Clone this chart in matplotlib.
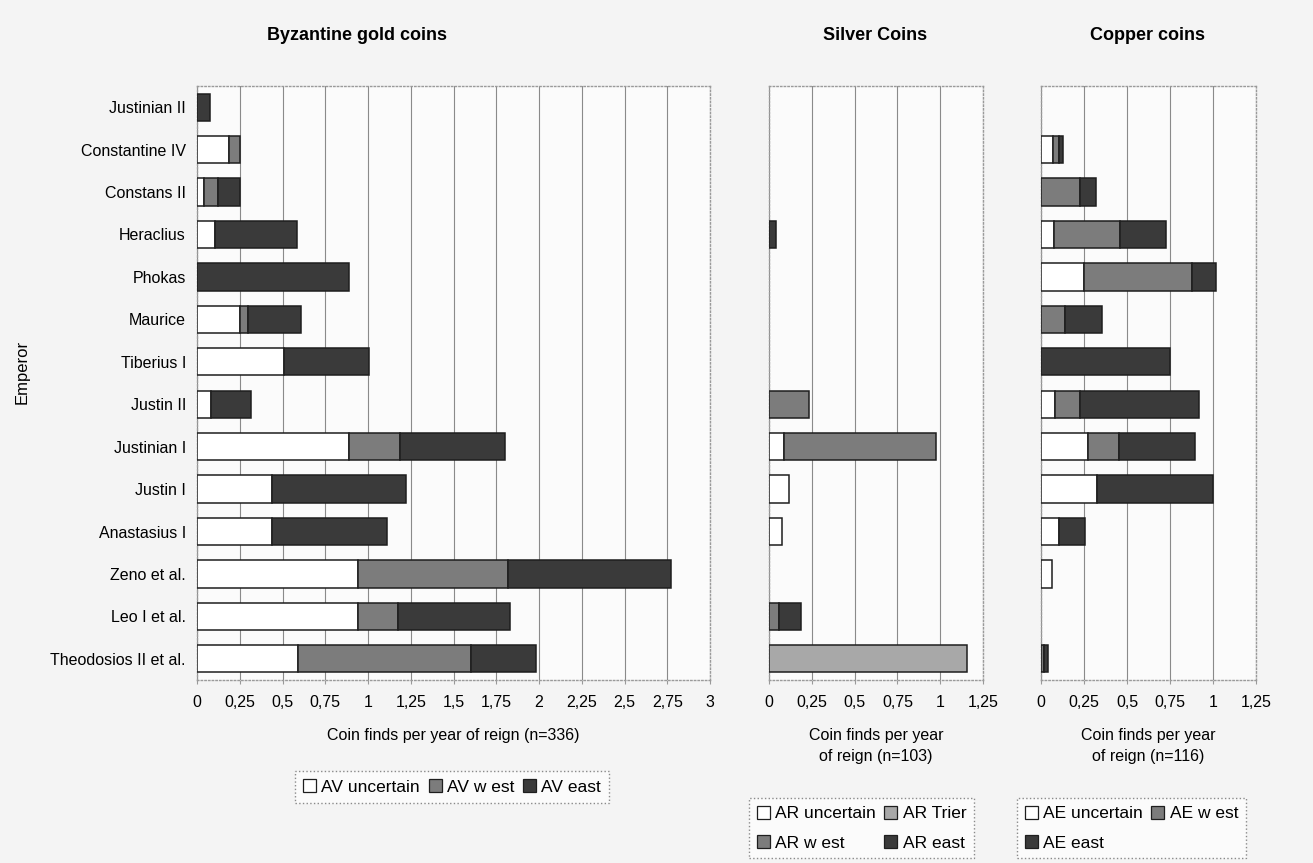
import numpy as np
import matplotlib
matplotlib.use("Agg")
import matplotlib.pyplot as plt
from matplotlib.patches import Patch

plt.rcParams['font.family'] = ['Liberation Sans', 'DejaVu Sans']

# Data (top to bottom as in the chart)
emperors = ["Justinian II", "Constantine IV", "Constans II", "Heraclius", "Phokas",
            "Maurice", "Tiberius I", "Justin II", "Justinian I", "Justin I",
            "Anastasius I", "Zeno et al.", "Leo I et al.", "Theodosios II et al."]

av_uncertain = [0, 0.19, 0.04, 0.105, 0, 0.254, 0.508, 0.081, 0.889, 0.44, 0.44, 0.942, 0.942, 0.59]
av_west = [0, 0.06, 0.08, 0, 0, 0.046, 0, 0, 0.30, 0, 0, 0.875, 0.235, 1.013]
av_east = [0.075, 0, 0.13, 0.482, 0.889, 0.31, 0.50, 0.236, 0.61, 0.782, 0.673, 0.953, 0.656, 0.377]

ar_uncertain = [0, 0, 0, 0, 0, 0, 0, 0, 0.088, 0.115, 0.078, 0, 0, 0]
ar_trier = [0, 0, 0, 0, 0, 0, 0, 0, 0, 0, 0, 0, 0, 1.158]
ar_west = [0, 0, 0, 0, 0, 0, 0, 0.234, 0.89, 0, 0, 0, 0.06, 0]
ar_east = [0, 0, 0, 0.04, 0, 0, 0, 0, 0, 0, 0, 0, 0.126, 0]

ae_uncertain = [0, 0.068, 0, 0.077, 0.252, 0, 0, 0.081, 0.271, 0.326, 0.106, 0.062, 0, 0]
ae_west = [0, 0.035, 0.229, 0.382, 0.624, 0.141, 0, 0.146, 0.184, 0, 0, 0, 0, 0.02]
ae_east = [0, 0.023, 0.091, 0.268, 0.141, 0.211, 0.752, 0.693, 0.44, 0.676, 0.152, 0, 0, 0.018]

gold_ticks = np.arange(0, 3.01, 0.25)
small_ticks = np.arange(0, 1.26, 0.25)

C_UNC = "white"
C_WEST = "#7c7c7c"
C_TRIER = "#a8a8a8"
C_EAST = "#3a3a3a"

W, H = 1313, 863
fig = plt.figure(figsize=(W / 100, H / 100), dpi=100, facecolor="#f4f4f4")


def px_axes(x0, x1, y0, y1):
    return fig.add_axes([x0 / W, 1 - y1 / H, (x1 - x0) / W, (y1 - y0) / H])


def fmt(v):
    s = ("%.2f" % v).rstrip("0").rstrip(".")
    return s.replace(".", ",")


ypos = np.arange(len(emperors))[::-1]


def stacked(ax, series, colors, ticks):
    left = np.zeros(len(emperors))
    for vals, col in zip(series, colors):
        vals = np.array(vals)
        mask = vals > 0
        ax.barh(ypos[mask], vals[mask], left=left[mask], height=0.64,
                color=col, edgecolor="#1e1e1e", linewidth=1.1, zorder=3)
        left += vals
    ax.set_xlim(0, ticks[-1])
    ax.set_ylim(-0.5, len(emperors) - 0.5)
    ax.set_xticks(ticks)
    ax.set_xticklabels([fmt(t) for t in ticks], fontsize=11.5)
    ax.tick_params(axis="x", length=3, color="#999999", pad=8)
    ax.tick_params(axis="y", length=0)
    ax.grid(axis="x", color="#8a8a8a", linewidth=0.8, zorder=0)
    ax.set_facecolor("#fbfbfb")
    for sp in ax.spines.values():
        sp.set_color("#9a9a9a")
        sp.set_linestyle(":")
        sp.set_linewidth(1.0)


ax1 = px_axes(197, 710, 86, 680)
stacked(ax1, [av_uncertain, av_west, av_east], [C_UNC, C_WEST, C_EAST], gold_ticks)
ax1.set_yticks(ypos)
ax1.set_yticklabels(emperors, fontsize=11.5)
ax1.tick_params(axis="y", pad=8)
ax1.set_xlabel("Coin finds per year of reign (n=336)", fontsize=11.5, labelpad=13)

ax2 = px_axes(769, 983, 86, 680)
stacked(ax2, [ar_uncertain, ar_west, ar_trier, ar_east], [C_UNC, C_WEST, C_TRIER, C_EAST], small_ticks)
ax2.set_yticks([])
ax2.set_xlabel("Coin finds per year\nof reign (n=103)", fontsize=11.5, labelpad=13, linespacing=1.45)

ax3 = px_axes(1041, 1256, 86, 680)
stacked(ax3, [ae_uncertain, ae_west, ae_east], [C_UNC, C_WEST, C_EAST], small_ticks)
ax3.set_yticks([])
ax3.set_xlabel("Coin finds per year\nof reign (n=116)", fontsize=11.5, labelpad=13, linespacing=1.45)

fig.text(357 / W, 1 - 35 / H, "Byzantine gold coins", ha="center", va="center",
         fontsize=13, fontweight="bold")
fig.text(875 / W, 1 - 35 / H, "Silver Coins", ha="center", va="center",
         fontsize=13, fontweight="bold")
fig.text(1148 / W, 1 - 35 / H, "Copper coins", ha="center", va="center",
         fontsize=13, fontweight="bold")
fig.text(22 / W, 1 - 372 / H, "Emperor", rotation=90, ha="center", va="center", fontsize=12)


def patch(c):
    return Patch(facecolor=c, edgecolor="#1e1e1e", linewidth=0.9)


leg_kw = dict(fontsize=12.5, handlelength=0.75, handleheight=0.75, handletextpad=0.3,
              columnspacing=0.5, borderpad=0.45, fancybox=False,
              borderaxespad=0, edgecolor="#8a8a8a", framealpha=1, facecolor="#fbfbfb")

lg1 = fig.legend([patch(C_UNC), patch(C_WEST), patch(C_EAST)],
                 ["AV uncertain", "AV w est", "AV east"], ncol=3, labelspacing=0.5,
                 loc="center", bbox_to_anchor=(452 / W, 1 - 787 / H), **leg_kw)
lg2 = fig.legend([patch(C_UNC), patch(C_WEST), patch(C_TRIER), patch(C_EAST)],
                 ["AR uncertain", "AR w est", "AR Trier", "AR east"], ncol=2, labelspacing=0.8,
                 loc="upper left", bbox_to_anchor=(749 / W, 1 - 798 / H), **leg_kw)
lg3 = fig.legend([patch(C_UNC), patch(C_EAST), patch(C_WEST)],
                 ["AE uncertain", "AE east", "AE w est"], ncol=2, labelspacing=0.8,
                 loc="upper left", bbox_to_anchor=(1017 / W, 1 - 798 / H), **leg_kw)
for lg in (lg1, lg2, lg3):
    lg.get_frame().set_linestyle(":")

fig.savefig("out.png", dpi=100, facecolor=fig.get_facecolor())
